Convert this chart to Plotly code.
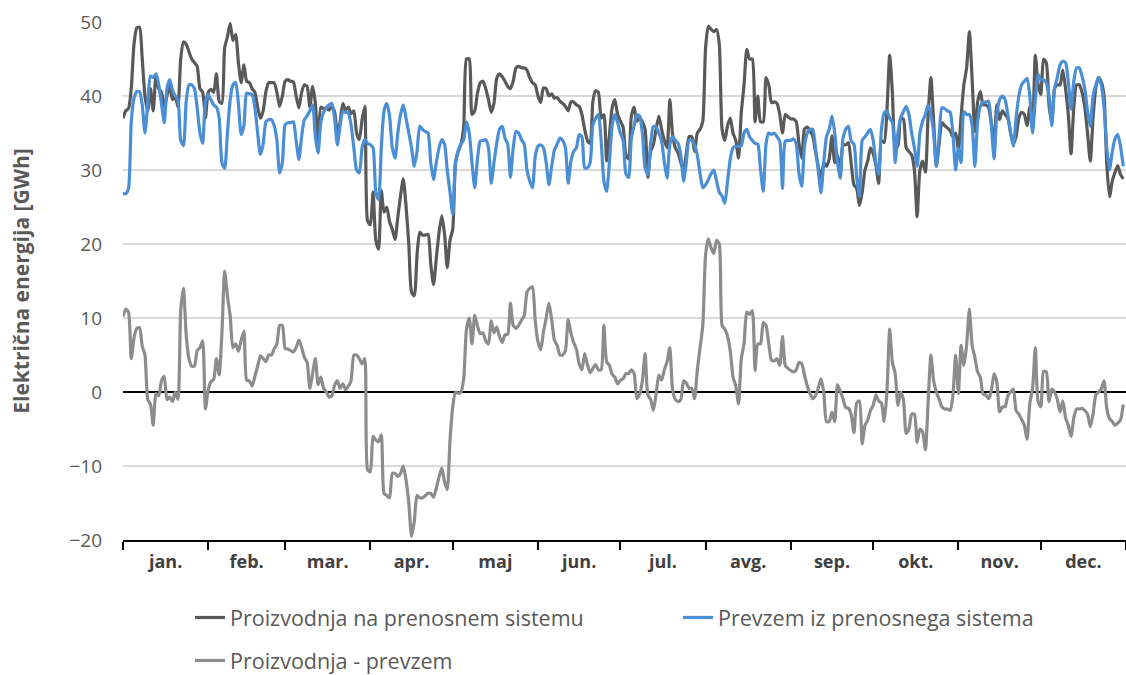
import pandas as pd
import plotly.graph_objects as go

# daily energy, GWh
proizvodnja = [
    37, 38, 38.3, 41, 47, 49.2, 49.3, 45, 40, 38,
    41, 38, 42.8, 41, 40.5, 38.5, 40, 41.5, 39.5, 40,
    38.5, 45, 47.3, 47, 46, 45, 44.5, 44, 41, 40.5,
    37, 40.5, 40.9, 40.5, 43, 39.3, 39, 46.5, 48, 49.8,
    47.5, 48.3, 44.5, 41.8, 44.2, 42, 41.8, 41, 40.5, 38.5,
    37, 38, 40.6, 41.8, 41.8, 41.8, 40.5, 38.6, 40, 42,
    42.2, 42, 41.9, 40, 38.4, 40.5, 41.5, 41.3, 38.5, 41.3,
    39, 33.3, 38.5, 38.3, 38.4, 38.1, 38.5, 37.9, 34.9, 36.5,
    39, 38.1, 38.5, 37.6, 38, 35, 34.1, 36.8, 38.6, 23.1,
    22.6, 27, 20.5, 19.3, 27.2, 24.3, 25, 23, 22, 20.6,
    23.6, 26.5, 28.8, 25.1, 20, 13.5, 13, 18.5, 21.6, 21.2,
    21.2, 21.3, 17.3, 14.5, 18, 21.5, 23.8, 21.4, 16.8, 20.5,
    22, 31, 32.5, 33.5, 36, 45, 45, 37.5, 38, 40.4,
    41.8, 42, 41, 39.5, 37.8, 39, 42.4, 43, 42.6, 42,
    41.3, 41, 42, 43.8, 44, 43.8, 43.8, 43.5, 42.5, 41.8,
    41.5, 40, 39.1, 41.1, 41, 40, 40.3, 39.7, 39.8, 39.3,
    39, 38.6, 38, 39.2, 39.2, 38.8, 38.6, 37.5, 35.5, 34,
    33.6, 39.3, 40.7, 40.5, 37, 37.5, 31.2, 34.6, 38.4, 39.5,
    37.5, 36.6, 35.8, 32, 31.5, 37.3, 38.5, 36.6, 37, 36.5,
    35.5, 29, 32.5, 33.4, 35.5, 37.3, 35.5, 34, 33, 39.5,
    34.8, 33, 32.3, 31, 30, 32.2, 34.5, 34.5, 32.5, 35,
    35.5, 36.6, 46.5, 49.4, 49, 48.7, 49, 47, 35.5, 34,
    36, 37, 35, 34, 31.6, 37.8, 41.5, 46.3, 45, 45,
    36.5, 40, 36.5, 36.5, 42.5, 41.5, 39.1, 39.2, 39, 37.5,
    35, 37.5, 37.2, 36.9, 36.9, 36.5, 33.5, 31.6, 35.5, 35.8,
    35.3, 34.6, 32.5, 30.5, 28.7, 31, 30.5, 31.5, 34.6, 31,
    32, 29, 33.4, 33.4, 33.7, 30.8, 28, 27.5, 25.2, 27,
    30, 31.2, 33, 32.2, 30.6, 28.2, 34, 33.7, 38, 45.5,
    40.4, 33.5, 33.2, 37, 36.9, 33, 32.5, 32, 30, 23.7,
    30, 31.2, 29.7, 37.5, 42.5, 36.5, 30.5, 33.5, 36.4, 36,
    35.7, 35.3, 34.5, 35, 32.8, 37.3, 41.5, 43.8, 48.7, 42.3,
    35.2, 39.2, 40.6, 38.8, 38.8, 38.4, 36.2, 34, 38.8, 36.8,
    38, 37.5, 37, 35, 33.6, 34.5, 37, 37.8, 37.5, 36,
    38.5, 35.5, 45.5, 41.6, 40.2, 45, 44.5, 38.7, 36.4, 41,
    41.5, 41.5, 43.5, 41, 37.5, 32.2, 38.5, 41.5, 41.5, 40.5,
    38.5, 35, 31.2, 37, 41.1, 42.5, 41.9, 40, 30.8, 26.4,
    28.5, 29.7, 30.6, 29.4, 28.8,
]

prevzem = [
    26.8, 26.8, 27.5, 36.5, 39.7, 40.6, 40.6, 38.8, 35, 39,
    42.7, 42.5, 43, 41.5, 39, 36.4, 41, 42.2, 40.8, 40,
    39.5, 34, 33.3, 39.3, 41.5, 41.5, 41, 38.4, 35, 33.6,
    39.3, 40.2, 39.5, 38.8, 38.5, 37, 31, 30.2, 35, 39.5,
    41.5, 41.8, 39, 34.8, 36, 40.4, 40.3, 40.2, 38.4, 35,
    32.1, 33.5, 36.5, 36.8, 36.8, 36, 34, 29.6, 31, 36.1,
    36.4, 36.4, 36.5, 34, 31.4, 34.5, 36.8, 37.3, 38, 38.8,
    34.5, 32.3, 36.5, 37.8, 38.4, 38.8, 39, 37, 33.4, 36,
    37.9, 37.8, 37.7, 36.1, 33, 30, 29.6, 33, 34.1, 33.6,
    33.4, 33, 27, 26, 33, 38, 39, 37.3, 33, 31.6,
    35, 37.5, 38.8, 37, 35, 33, 30.5, 32.5, 35.9, 35.5,
    35.2, 35, 31, 28.7, 31, 33, 34.1, 33.5, 30, 27,
    24, 31, 32.7, 33.5, 34.1, 36.5, 35, 31, 27.6, 31.5,
    33.9, 34, 34.1, 33, 28.2, 31, 33.6, 35.5, 35.9, 34.3,
    33.5, 29, 33, 35.2, 35, 34.1, 33.5, 30, 28.5, 27.6,
    31.8, 33.2, 33.4, 33, 31, 28, 30.5, 32.7, 33.5, 34.3,
    34, 33, 28.2, 31.2, 32.5, 33, 34.8, 34.5, 30.3, 30.3,
    31, 36.1, 37, 37.5, 34, 28.5, 27.1, 31, 36, 37.5,
    36.4, 35, 34, 29.5, 29, 34.3, 36, 37.5, 37.3, 35,
    30.3, 29.4, 33.5, 35.9, 35.8, 35, 33.9, 31, 28.9, 33.5,
    34.5, 34, 33.6, 32, 28.5, 31, 34, 34, 33.4, 32,
    29.5, 27.6, 28, 28.7, 29.5, 30, 28.5, 27, 26.5, 25.5,
    28.5, 31.5, 33, 33.2, 33.2, 33.3, 35, 35.5, 34.5, 34,
    33.6, 33.5, 30, 27.1, 33.5, 35, 34.8, 35, 34.5, 33.9,
    27.5, 33.9, 34, 34, 34.2, 33.5, 29.5, 27.8, 33.2, 35,
    35.5, 35.5, 33, 30, 26.9, 31, 34.5, 35.5, 37.3, 35,
    31, 28.9, 34.3, 35.5, 35.9, 33.9, 33.5, 29, 26.4, 34,
    34.5, 35, 35.5, 34, 31, 29.4, 35.5, 37.7, 38, 37,
    36.4, 31, 35, 37, 37.9, 38.6, 37.5, 35, 33, 30.5,
    35, 36.6, 37.5, 38.8, 37.5, 35, 30.5, 34.5, 38.4, 38.3,
    38, 37.8, 35, 30, 33, 31, 37.9, 37.5, 37.5, 36,
    30.5, 36.5, 38.6, 39.1, 39.2, 39.3, 36, 31.5, 37.5, 39.5,
    40, 39.5, 37.5, 35, 33.2, 37, 40, 41.5, 42, 42.4,
    40, 35, 39.5, 42.9, 42.2, 42.2, 41.8, 40, 36, 41,
    42.5, 44.2, 44.7, 44.5, 42, 38.2, 42, 43.8, 43.8, 42.7,
    41, 38, 35.9, 40, 41.5, 42.5, 41.5, 38.5, 33, 30,
    32.5, 34.2, 34.8, 33.2, 30.5,
]

mesci = ["jan.", "feb.", "mar.", "apr.", "maj", "jun.",
         "jul.", "avg.", "sep.", "okt.", "nov.", "dec."]

dni = pd.date_range("2021-01-01", periods=len(proizvodnja), freq="D")
razlika = [round(p - q, 2) for p, q in zip(proizvodnja, prevzem)]

zacetki = pd.date_range("2021-01-01", periods=13, freq="MS")
sredine = zacetki[:-1] + (zacetki[1:] - zacetki[:-1]) / 2

FONT = "Open Sans"
GRAY = "#595959"
W, H = 1126, 675

fig = go.Figure()
fig.add_trace(go.Scatter(
    x=dni, y=proizvodnja, mode="lines",
    line=dict(color="#595959", width=3.2, shape="spline", smoothing=0.6),
    name="Proizvodnja na prenosnem sistemu", legend="legend"
))
fig.add_trace(go.Scatter(
    x=dni, y=prevzem, mode="lines",
    line=dict(color="#4a8fd6", width=3.2, shape="spline", smoothing=0.6),
    name="Prevzem iz prenosnega sistema", legend="legend"
))
fig.add_trace(go.Scatter(
    x=dni, y=razlika, mode="lines",
    line=dict(color="#8c8c8c", width=3.2, shape="spline", smoothing=0.6),
    name="Proizvodnja - prevzem", legend="legend2"
))

fig.update_layout(
    width=W, height=H,
    margin=dict(l=123, r=0, t=22, b=135, autoexpand=False),
    plot_bgcolor="white", paper_bgcolor="white",
    font=dict(family=FONT, color=GRAY),
    legend=dict(
        orientation="h", xref="container", yref="container",
        x=190 / W, y=1 - 597 / H, xanchor="left", yanchor="top",
        entrywidth=443, entrywidthmode="pixels",
        font=dict(family=FONT, size=21.5, color=GRAY),
    ),
    legend2=dict(
        orientation="h", xref="container", yref="container",
        x=190 / W, y=1 - 640 / H, xanchor="left", yanchor="top",
        font=dict(family=FONT, size=21.5, color=GRAY),
    ),
)

fig.update_yaxes(
    range=[-20, 50], dtick=10, showline=False, automargin=False,
    showgrid=True, gridcolor="#d9d9d9", gridwidth=1.5,
    zeroline=True, zerolinecolor="black", zerolinewidth=1.5,
    ticks="", ticklabelstandoff=20,
    tickfont=dict(family=FONT, size=19, color=GRAY),
    title=dict(text="<b>Električna energija [GWh]</b>", standoff=34,
               font=dict(family=FONT, size=21, color=GRAY)),
)

fig.update_xaxes(
    type="date", range=["2021-01-01", "2022-01-01"], automargin=False,
    showgrid=False, showline=True, linecolor="black", linewidth=1.5,
    tickvals=sredine, ticktext=["<b>%s</b>" % m for m in mesci],
    ticks="", ticklabelstandoff=5,
    tickfont=dict(family=FONT, size=18, color="#404040"),
    minor=dict(ticks="outside", ticklen=8, tickcolor="black", tickwidth=1.5,
               dtick="M1", tick0="2021-01-01", showgrid=False),
)

# drop the page's default body margin so the figure fills the window
fig.write_html("out.html", config={"displayModeBar": False},
               post_script="document.body.style.margin = '0';")
